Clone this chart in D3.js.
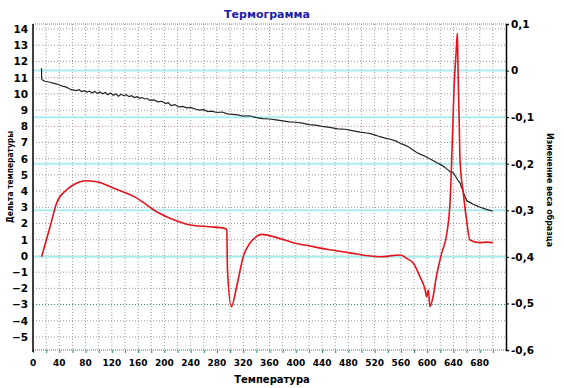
<!DOCTYPE html>
<html>
<head>
<meta charset="utf-8">
<script src="https://cdn.jsdelivr.net/npm/d3@7"></script>
<style>
  body { margin: 0; background: #fff; }
  text { font-family: "DejaVu Sans", sans-serif; font-weight: bold; }
</style>
</head>
<body>
<div class="canvas"></div>
<script>
// ticks
const xTicks = [0, 40, 80, 120, 160, 200, 240, 280, 320, 360, 400, 440, 480, 520, 560, 600, 640, 680];
const leftTicks = [14, 13, 12, 11, 10, 9, 8, 7, 6, 5, 4, 3, 2, 1, 0, -1, -2, -3, -4, -5];
const rightTicks = [0.1, 0, -0.1, -0.2, -0.3, -0.4, -0.5, -0.6];

// delta temperature (red, left axis)
const redTemp = [13, 19, 26, 36, 51, 66, 79, 97, 122, 158, 188, 219, 239, 269, 292, 295,
  296, 302, 310, 320, 330, 340, 348, 371, 396, 422, 447, 478, 528, 559, 569, 579,
  589, 597, 599, 602, 604, 609, 614, 622, 630, 635, 639, 641, 644, 646, 647, 649,
  650, 655, 660, 665, 680, 690, 700];
const redDelta = [-0.05, 0.8, 1.8, 3.27, 4.07, 4.48, 4.64, 4.58, 4.19, 3.57, 2.73, 2.16, 1.91, 1.8, 1.7, 1.6,
  -0.87, -3.13, -1.9, -0.05, 0.78, 1.19, 1.33, 1.13, 0.82, 0.61, 0.41, 0.22, -0.05, 0.06, -0.15, -0.45,
  -1.28, -2.1, -2.51, -2.1, -3.13, -2.51, -1.28, 0.16, 1.4, 3.45, 7.97, 10.44, 12.52, 13.73, 11.47, 7.77,
  5.92, 3.88, 2.22, 0.98, 0.82, 0.85, 0.82];

// weight change (black, right axis)
const blackTemp = [13, 13.2, 14, 18, 22, 26, 30, 34, 38, 42, 46, 50, 54, 58, 62, 66, 70, 74, 78,
  82, 86, 90, 94, 98, 102, 106, 110, 114, 118, 122, 126, 130, 134, 138, 142, 146, 150,
  154, 158, 162, 166, 170, 174, 178, 184, 190, 196, 202, 206, 210, 216, 222, 228, 234,
  240, 248, 254, 260, 266, 272, 280, 288, 296, 304, 312, 320, 330, 340, 350, 360, 370,
  380, 390, 400, 410, 420, 430, 440, 452, 464, 475, 486, 498, 508, 515, 522, 528, 536,
  545, 552, 559, 566, 572, 578, 584, 590, 597, 603, 609, 615, 622, 628, 635, 639, 641,
  644, 647, 650, 652, 654, 656, 658, 660, 665, 670, 675, 680, 690, 700];
const blackWeight = [0.005, -0.018, -0.020, -0.023, -0.024, -0.025, -0.027, -0.028, -0.030, -0.032, -0.034, -0.035, -0.038, -0.041, -0.042, -0.043, -0.041, -0.045, -0.043,
  -0.046, -0.044, -0.048, -0.045, -0.049, -0.046, -0.050, -0.047, -0.052, -0.048, -0.053, -0.050, -0.055, -0.051, -0.054, -0.052, -0.056, -0.054,
  -0.058, -0.056, -0.059, -0.058, -0.061, -0.060, -0.064, -0.063, -0.067, -0.066, -0.071, -0.069, -0.075, -0.073, -0.078, -0.077, -0.080,
  -0.079, -0.083, -0.085, -0.084, -0.088, -0.087, -0.090, -0.089, -0.093, -0.094, -0.095, -0.098, -0.097, -0.101, -0.103, -0.104, -0.106,
  -0.108, -0.110, -0.111, -0.113, -0.116, -0.117, -0.120, -0.122, -0.125, -0.126, -0.129, -0.132, -0.134, -0.136, -0.139, -0.142, -0.145,
  -0.148, -0.151, -0.156, -0.160, -0.164, -0.170, -0.176, -0.180, -0.184, -0.189, -0.193, -0.198, -0.203, -0.209, -0.217, -0.219, -0.222,
  -0.229, -0.236, -0.241, -0.250, -0.256, -0.265, -0.272, -0.279, -0.283, -0.287, -0.290, -0.293, -0.298, -0.302];

const width = 564;
const height = 388;
const margin = { top: 24, right: 58, bottom: 38, left: 33 };
const graphWidth = width - margin.left - margin.right;
const graphHeight = height - margin.top - margin.bottom;

const svg = d3
  .select(".canvas")
  .append("svg")
  .attr("width", width)
  .attr("height", height);

const graph = svg
  .append("g")
  .attr("transform", `translate(${margin.left}, ${margin.top})`);

// scales
const x = d3.scaleLinear().domain([0, 720]).range([0, graphWidth]);
const yLeft = d3.scaleLinear().domain([14, -5]).range([5, 313]);
const yRight = d3.scaleLinear().domain([0.1, -0.6]).range([0, graphHeight]);

// vertical grid
graph
  .selectAll(".vgrid")
  .data(d3.range(20, 720, 20))
  .enter()
  .append("line")
  .attr("x1", (d) => x(d))
  .attr("x2", (d) => x(d))
  .attr("y1", 0)
  .attr("y2", graphHeight)
  .attr("stroke", "#999")
  .attr("stroke-dasharray", "1,2");

// horizontal grid from left ticks
const gridColor = (d) => (d === 11 || d === 8 ? "#d98aa0" : d === -3 ? "#2a8a70" : "#999");
graph
  .selectAll(".hgrid")
  .data(leftTicks)
  .enter()
  .append("line")
  .attr("x1", 0)
  .attr("x2", graphWidth)
  .attr("y1", (d) => yLeft(d))
  .attr("y2", (d) => yLeft(d))
  .attr("stroke", gridColor)
  .attr("stroke-dasharray", "1,2");

// cyan lines for right ticks
graph
  .selectAll(".cgrid")
  .data([0, -0.1, -0.2, -0.3, -0.4])
  .enter()
  .append("line")
  .attr("x1", 0)
  .attr("x2", graphWidth)
  .attr("y1", (d) => yRight(d))
  .attr("y2", (d) => yRight(d))
  .attr("stroke", "#a8eef0")
  .attr("stroke-width", 2);

// top and bottom borders
graph.append("line")
  .attr("x1", 0).attr("x2", graphWidth)
  .attr("y1", 0).attr("y2", 0)
  .attr("stroke", "#888").attr("stroke-dasharray", "1,1");
graph.append("line")
  .attr("x1", 0).attr("x2", graphWidth)
  .attr("y1", graphHeight).attr("y2", graphHeight)
  .attr("stroke", "#2a8a70").attr("stroke-dasharray", "1,1");

// axes
const xAxis = d3.axisBottom(x).tickValues(d3.range(0, 720, 20)).tickSize(3).tickFormat("");
const xAxisGroup = graph.append("g").attr("transform", `translate(0, ${graphHeight})`).call(xAxis);
xAxisGroup.select(".domain").remove();
xAxisGroup.selectAll("line").attr("stroke", "#2a8a70");

graph
  .selectAll(".xlabel")
  .data(xTicks)
  .enter()
  .append("text")
  .attr("x", (d) => x(d))
  .attr("y", graphHeight + 16)
  .attr("text-anchor", "middle")
  .attr("font-size", 9)
  .text((d) => d);

const yLeftAxis = d3.axisLeft(yLeft).tickValues(leftTicks).tickSize(0).tickPadding(5);
const leftGroup = graph.append("g").call(yLeftAxis);
leftGroup.select(".domain").remove();
leftGroup.selectAll("text").attr("font-size", 10.5).attr("fill", "#000")
  .style("font-family", "DejaVu Sans").style("font-weight", "bold");
graph.append("line")
  .attr("x1", 0).attr("x2", 0).attr("y1", 0).attr("y2", graphHeight + 2)
  .attr("stroke", "#000").attr("stroke-width", 1.5);

const yRightAxis = d3.axisRight(yRight)
  .tickValues(rightTicks)
  .tickSize(3)
  .tickPadding(2);
const rightGroup = graph.append("g").attr("transform", `translate(${graphWidth}, 0)`).call(yRightAxis);
rightGroup.select(".domain").attr("stroke", "#000").attr("stroke-width", 1.5);
rightGroup.selectAll("text").attr("font-size", 10.5).attr("fill", "#000")
  .style("font-family", "DejaVu Sans").style("font-weight", "bold")
  .text((d) => (d === 0 ? "0" : String(d).replace(".", ",")));

// lines
const redLine = d3.line()
  .x((d, i) => x(redTemp[i]))
  .y((d) => yLeft(d))
  .curve(d3.curveMonotoneX);
const blackLine = d3.line().x((d, i) => x(blackTemp[i])).y((d) => yRight(d));

graph.append("path")
  .datum(blackWeight)
  .attr("fill", "none")
  .attr("stroke", "#222")
  .attr("stroke-width", 1.2)
  .attr("d", blackLine);

graph.append("path")
  .datum(redDelta)
  .attr("fill", "none")
  .attr("stroke", "#e3141c")
  .attr("stroke-width", 1.6)
  .attr("d", redLine);

// titles
svg.append("text")
  .attr("x", 267)
  .attr("y", 18)
  .attr("text-anchor", "middle")
  .attr("font-size", 11)
  .attr("fill", "#1c1ca8")
  .text("Термограмма");

svg.append("text")
  .attr("x", 272)
  .attr("y", 383)
  .attr("text-anchor", "middle")
  .attr("font-size", 10)
  .text("Температура");

svg.append("text")
  .attr("transform", "translate(13, 177) rotate(-90)")
  .attr("text-anchor", "middle")
  .attr("font-size", 8.5)
  .attr("textLength", 92)
  .attr("lengthAdjust", "spacingAndGlyphs")
  .text("Дельта температуры");

svg.append("text")
  .attr("transform", "translate(547, 190) rotate(90)")
  .attr("text-anchor", "middle")
  .attr("font-size", 9)
  .attr("textLength", 114)
  .attr("lengthAdjust", "spacingAndGlyphs")
  .text("Изменение веса образца");
</script>
</body>
</html>
